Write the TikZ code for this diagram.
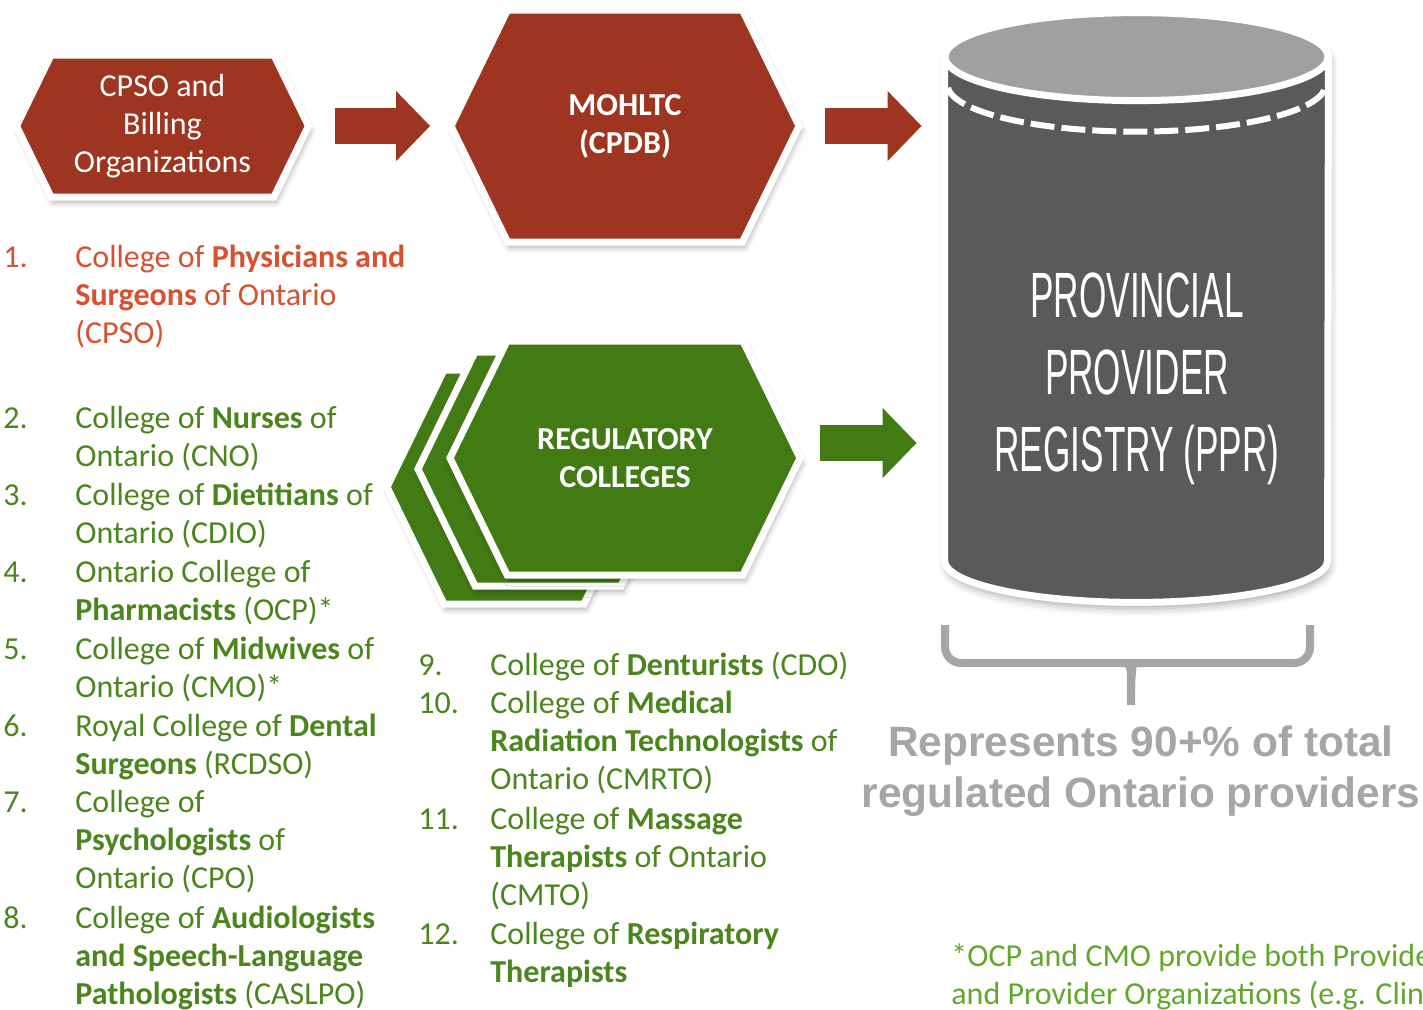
\documentclass[tikz,border=0pt]{standalone}
\usepackage{fontspec}
\setmainfont{Carlito}
\newfontfamily\arialfont{Liberation Sans}
\newfontfamily\pprfont[FakeStretch=0.55]{Liberation Sans}
\usetikzlibrary{shapes.symbols, arrows.meta, positioning, calc, shadows.blur}
\definecolor{hexred}{RGB}{157, 53, 33}
\definecolor{listred}{RGB}{216, 80, 45}
\definecolor{hexgreen}{RGB}{66, 122, 20}
\definecolor{listgreen}{RGB}{74, 134, 28}
\definecolor{notegreen}{RGB}{96, 168, 42}
\definecolor{cylbody}{RGB}{90, 90, 90}
\definecolor{cyltop}{RGB}{160, 160, 160}
\definecolor{bracegray}{RGB}{166, 166, 166}

\tikzset{
  hexbox/.style={shape=signal, signal to=east and west, signal pointer angle=128, draw=white, line width=3.5pt, inner sep=0pt, text=white, align=center, font=\fontsize{16}{19}\selectfont, blur shadow={shadow xshift=1pt, shadow yshift=-2.5pt, shadow blur radius=3pt, shadow opacity=35}},
  blockarrow/.style={line width=18pt, -{Triangle[width=34pt, length=17pt]}},
  listnum/.style={anchor=base west, inner sep=0pt, font=\fontsize{16}{19}\selectfont},
  listtext/.style={anchor=base west, inner sep=0pt, align=left, font=\fontsize{16}{19}\selectfont},
}

\begin{document}
\begin{tikzpicture}[x=0.5pt, y=-0.5pt]
  \useasboundingbox (0,0) rectangle (1423,1009);

  \node[hexbox, fill=hexred, minimum width=146pt, minimum height=71pt] (cpso) at (162.5,126) {CPSO and\\Billing\\Organizations};
  \node[hexbox, fill=hexred, minimum width=174pt, minimum height=116pt, font=\fontsize{16}{19}\selectfont\bfseries] (mohltc) at (625,126) {MOHLTC\\(CPDB)};

  \node[hexbox, fill=hexgreen, minimum width=127pt, minimum height=117pt] (rc3) at (514,487) {};
  \node[hexbox, fill=hexgreen, minimum width=130pt, minimum height=117pt] (rc2) at (548,469) {};
  \node[hexbox, fill=hexgreen, minimum width=175pt, minimum height=117pt, font=\fontsize{16}{19}\selectfont\bfseries] (rc1) at (625,458) {REGULATORY\\COLLEGES};

  \node[minimum width=191.5pt, minimum height=251.5pt, inner sep=0pt] (ppr) at (1136.5,308.5) {};
  \path[fill=cylbody, draw=white, line width=3.5pt, blur shadow={shadow xshift=1pt, shadow yshift=-3pt, shadow blur radius=4pt, shadow opacity=35}]
    (ppr.north west) -- (ppr.south west) arc[start angle=180, end angle=360, x radius=95.75pt, y radius=21pt]
    -- (ppr.north east) arc[start angle=0, end angle=180, x radius=95.75pt, y radius=22pt] -- cycle;
  \draw[fill=cyltop, draw=white, line width=3.5pt] (ppr.north) ellipse[x radius=95.75pt, y radius=22pt];
  \draw[white, line width=3pt, dash pattern=on 12pt off 3.5pt] ($(ppr.north)+(0,28)$) ++(184:94.5pt and 23.5pt) arc[start angle=184, end angle=356, x radius=94.5pt, y radius=23.5pt];
  \node[text=white, align=center, font=\pprfont\fontsize{32}{38.5}\selectfont] (pprlabel) at (1137,379) {PROVINCIAL\\PROVIDER\\REGISTRY (PPR)};

  \draw[blockarrow, hexred, shorten <=11.5pt, shorten >=8.5pt] (cpso.east) -- (mohltc.west);
  \draw[blockarrow, hexred, shorten <=11pt, shorten >=11.5pt] (mohltc.east) -- (mohltc.east -| ppr.west);
  \draw[blockarrow, hexgreen, shorten <=8pt, shorten >=14pt] ([yshift=7.5pt]rc1.east) -- ([yshift=7.5pt]rc1.east -| ppr.west);

  \draw[bracegray, line width=4pt, rounded corners=8pt] (945,625) -- (945,663) -- (1116,663) .. controls (1127,663) and (1131,670) .. (1131,688) -- (1131,705);
  \draw[bracegray, line width=4pt, rounded corners=8pt] (1310,625) -- (1310,663) -- (1146,663) .. controls (1135,663) and (1131,670) .. (1131,688);
  \node[text=bracegray, align=center, font=\arialfont\bfseries\fontsize{21.2}{25.5}\selectfont] (share) at (1141,771) {Represents 90+\% of total\\regulated Ontario providers};

  \node[listnum, text=listred] (n1) at (3,267) {1.};
  \node[listtext, text=listred] (t1) at (75,343) {College of \textbf{Physicians and}\\\textbf{Surgeons} of Ontario\\(CPSO)};
  \node[listnum, text=listgreen] (n2) at (3,428) {2.};
  \node[listtext, text=listgreen] (t2) at (75,466) {College of \textbf{Nurses} of\\Ontario (CNO)};
  \node[listnum, text=listgreen] (n3) at (3,505) {3.};
  \node[listtext, text=listgreen] (t3) at (75,543) {College of \textbf{Dietitians} of\\Ontario (CDIO)};
  \node[listnum, text=listgreen] (n4) at (3,582) {4.};
  \node[listtext, text=listgreen] (t4) at (75,620) {Ontario College of\\\textbf{Pharmacists} (OCP)*};
  \node[listnum, text=listgreen] (n5) at (3,659) {5.};
  \node[listtext, text=listgreen] (t5) at (75,697) {College of \textbf{Midwives} of\\Ontario (CMO)*};
  \node[listnum, text=listgreen] (n6) at (3,736) {6.};
  \node[listtext, text=listgreen] (t6) at (75,774) {Royal College of \textbf{Dental}\\\textbf{Surgeons} (RCDSO)};
  \node[listnum, text=listgreen] (n7) at (3,812) {7.};
  \node[listtext, text=listgreen] (t7) at (75,888) {College of\\\textbf{Psychologists} of\\Ontario (CPO)};
  \node[listnum, text=listgreen] (n8) at (3,928) {8.};
  \node[listtext, text=listgreen] (t8) at (75,1004) {College of \textbf{Audiologists}\\\textbf{and Speech-Language}\\\textbf{Pathologists} (CASLPO)};

  \node[listnum, text=listgreen] (n9) at (418,675) {9.};
  \node[listtext, text=listgreen] (t9) at (490,675) {College of \textbf{Denturists} (CDO)};
  \node[listnum, text=listgreen] (n10) at (418,713) {10.};
  \node[listtext, text=listgreen] (t10) at (490,789) {College of \textbf{Medical}\\\textbf{Radiation Technologists} of\\Ontario (CMRTO)};
  \node[listnum, text=listgreen] (n11) at (418,829) {11.};
  \node[listtext, text=listgreen] (t11) at (490,905) {College of \textbf{Massage}\\\textbf{Therapists} of Ontario\\(CMTO)};
  \node[listnum, text=listgreen] (n12) at (418,944) {12.};
  \node[listtext, text=listgreen] (t12) at (490,982) {College of \textbf{Respiratory}\\\textbf{Therapists}};

  \node[listtext, text=notegreen] (note) at (951,1004) {*OCP and CMO provide both Providers\\and Provider Organizations (e.g. Clinics)};
\end{tikzpicture}
\end{document}
